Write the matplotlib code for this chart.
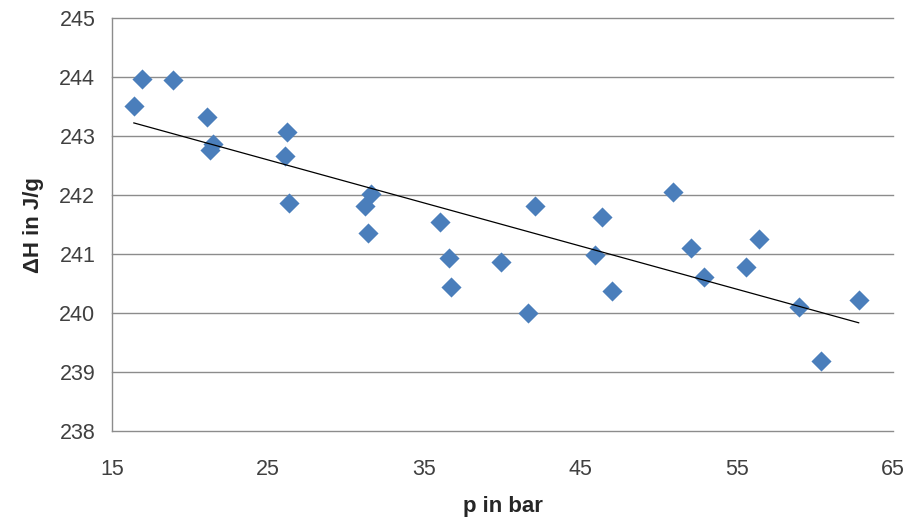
import numpy as np
import matplotlib
matplotlib.use("Agg")
import matplotlib.pyplot as plt

p_bar = [16.4, 16.9, 18.9, 21.1, 21.45, 21.25, 26.2, 26.1, 26.3,
         31.6, 31.2, 31.4, 36.0, 36.6, 36.7, 39.9, 41.6, 42.1,
         46.4, 45.9, 47.0, 50.9, 52.05, 52.9, 56.4, 55.6, 59.0, 60.4, 62.8]
dH = [243.51, 243.97, 243.95, 243.32, 242.87, 242.77, 243.07, 242.67, 241.86,
      242.02, 241.81, 241.36, 241.55, 240.93, 240.45, 240.86, 240.0, 241.82,
      241.63, 240.99, 240.37, 242.06, 241.1, 240.62, 241.26, 240.78, 240.1, 239.18, 240.23]
x_ticks = [15, 25, 35, 45, 55, 65]
y_ticks = [238, 239, 240, 241, 242, 243, 244, 245]
x_label = "p in bar"
y_label = "ΔH in J/g"

plt.rcParams['font.family'] = ['Liberation Sans', 'DejaVu Sans']

fig = plt.figure(figsize=(9.06, 5.20), dpi=100)
ax = fig.add_axes([0.1236, 0.1712, 0.8621, 0.7936])

grid_col = '#8c8c8c'
for yv in y_ticks:
    ax.axhline(yv, color=grid_col, lw=1.0, zorder=1, clip_on=False)

ax.scatter(p_bar, dH, marker='D', s=105, color='#4a7ebb', zorder=3, linewidths=0)

coef = np.polyfit(p_bar, dH, 1)
xs = np.array([min(p_bar), max(p_bar)])
ax.plot(xs, np.polyval(coef, xs), color='black', lw=0.9, zorder=4)

ax.set_xlim(15, 65)
ax.set_ylim(238, 245)
ax.set_xticks(x_ticks)
ax.set_yticks(y_ticks)
ax.tick_params(length=0, labelsize=15.5, labelcolor='#404040')
ax.tick_params(axis='x', pad=20)
ax.tick_params(axis='y', pad=12)
for s in ['top', 'right', 'bottom']:
    ax.spines[s].set_visible(False)
ax.spines['left'].set_color(grid_col)
ax.spines['left'].set_linewidth(1.0)

ax.set_xlabel(x_label, fontsize=16, fontweight='bold', color='#262626', labelpad=12)
ax.set_ylabel(y_label, fontsize=16, fontweight='bold', color='#262626', labelpad=11)

fig.savefig('out.png', dpi=100)
